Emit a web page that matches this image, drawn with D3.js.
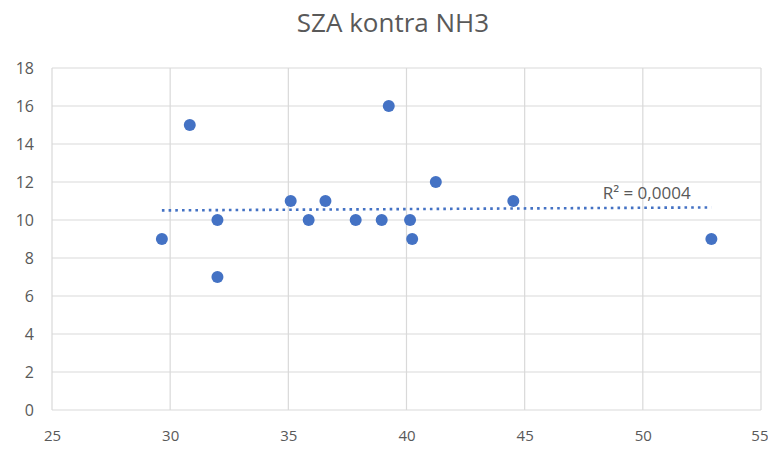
<!DOCTYPE html>
<html>
<head>
<meta charset="utf-8">
<script src="https://cdn.jsdelivr.net/npm/d3@7"></script>
<style>
  body { margin: 0; background: #fff; overflow: hidden; }
  text { font-family: "Open Sans", sans-serif; fill: #595959; }
</style>
</head>
<body>
<div id="chart"></div>
<script>
// SZA (x) vs NH3 (y)
var xValues = [29.65, 30.83, 32.0, 32.0, 35.1, 35.86, 36.57, 37.85, 38.95, 39.25, 40.15, 40.24, 41.24, 44.52, 52.9];
var yValues = [9, 15, 10, 7, 11, 10, 11, 10, 10, 16, 10, 9, 12, 11, 9];
var xTicks = [25, 30, 35, 40, 45, 50, 55];
var yTicks = [0, 2, 4, 6, 8, 10, 12, 14, 16, 18];
// linear trendline as drawn in the chart
var trendSlope = 0.0068;
var trendIntercept = 10.303;
var trendLabel = "R\u00b2 = 0,0004";
var title = "SZA kontra NH3";

var width = 768, height = 449;
var margin = {top: 68, right: 7, bottom: 39, left: 52};

var svg = d3.select("#chart").append("svg")
    .attr("width", width).attr("height", height);

var x = d3.scaleLinear().domain([25, 55]).range([margin.left, width - margin.right]);
var y = d3.scaleLinear().domain([0, 18]).range([height - margin.bottom, margin.top]);

// gridlines
svg.append("g").selectAll("line").data(yTicks).enter().append("line")
    .attr("x1", x(25)).attr("x2", x(55))
    .attr("y1", function(d) { return y(d); }).attr("y2", function(d) { return y(d); })
    .attr("stroke", "#d9d9d9").attr("stroke-width", 1.2);
svg.append("g").selectAll("line").data(xTicks).enter().append("line")
    .attr("x1", function(d) { return x(d); }).attr("x2", function(d) { return x(d); })
    .attr("y1", y(0)).attr("y2", y(18))
    .attr("stroke", "#d9d9d9").attr("stroke-width", 1.2);

// axes (labels only)
var xAxis = svg.append("g").attr("transform", "translate(0," + y(0) + ")")
    .call(d3.axisBottom(x).tickValues(xTicks).tickSize(0).tickPadding(20));
var yAxis = svg.append("g").attr("transform", "translate(" + x(25) + ",0)")
    .call(d3.axisLeft(y).tickValues(yTicks).tickSize(0).tickPadding(18));
[xAxis, yAxis].forEach(function(a) {
  a.select(".domain").remove();
  a.selectAll("line").remove();
  a.selectAll("text").attr("font-family", "Open Sans").attr("font-size", 16).attr("fill", "#595959");
});
xAxis.selectAll("text").attr("font-size", 15);
// keep the last label inside the frame
xAxis.selectAll(".tick").filter(function(d) { return d === 55; })
    .select("text").attr("text-anchor", "end").attr("dx", 7);

// trendline
var xMin = d3.min(xValues), xMax = d3.max(xValues);
svg.append("line")
    .attr("x1", x(xMin)).attr("y1", y(trendIntercept + trendSlope * xMin))
    .attr("x2", x(xMax)).attr("y2", y(trendIntercept + trendSlope * xMax))
    .attr("stroke", "#4472C4").attr("stroke-width", 2.6)
    .attr("stroke-dasharray", "2.6 4.1");

svg.append("text").text(trendLabel)
    .attr("x", x(48.3)).attr("y", y(11.1))
    .attr("font-size", 17).attr("fill", "#595959");

// points
svg.append("g").selectAll("circle").data(xValues).enter().append("circle")
    .attr("cx", function(d) { return x(d); })
    .attr("cy", function(d, i) { return y(yValues[i]); })
    .attr("r", 6)
    .attr("fill", "#4472C4");

// title
svg.append("text").text(title)
    .attr("x", 393).attr("y", 32)
    .attr("text-anchor", "middle")
    .attr("font-size", 26).attr("fill", "#595959");
</script>
</body>
</html>
